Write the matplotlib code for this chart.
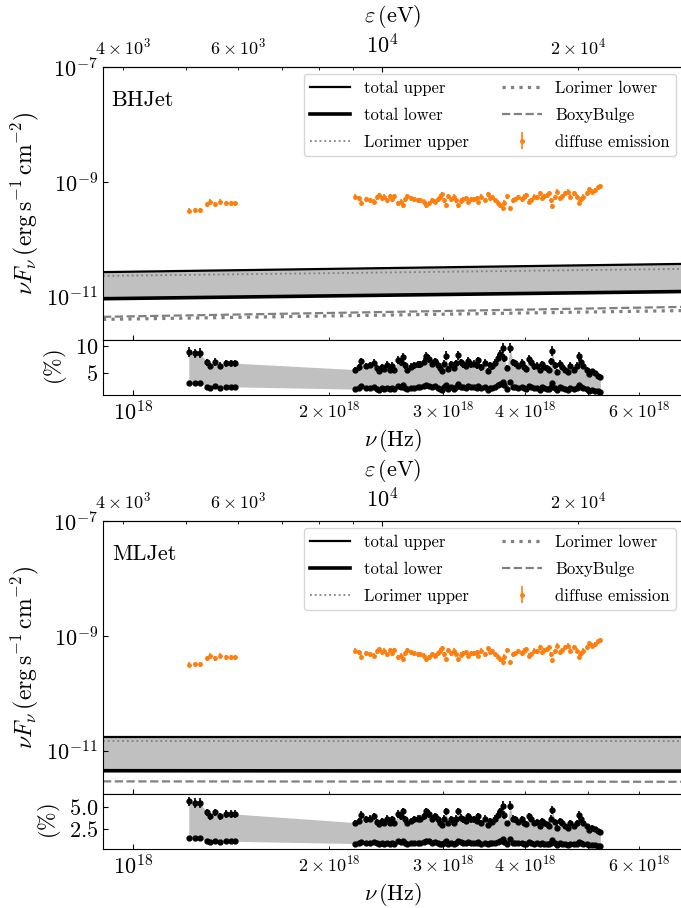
import matplotlib

matplotlib.use("Agg")

import matplotlib.pyplot as plt
import numpy as np

plt.rcParams["font.family"] = "serif"
plt.rcParams["font.serif"] = ["cmr10"]
plt.rcParams["mathtext.fontset"] = "cm"
plt.rcParams["axes.formatter.use_mathtext"] = True

H_EV = 4.135667696e-15  # eV s

# diffuse emission spectrum (nu in 1e18 Hz, flux in 1e-10 erg/s/cm2)
nu_data = [
    1.219, 1.244, 1.267, 1.301, 1.313, 1.336, 1.362, 1.389, 1.416, 1.435,
    2.197, 2.226, 2.241, 2.285, 2.315, 2.345, 2.370, 2.392, 2.414, 2.433,
    2.456, 2.481, 2.504, 2.521, 2.554, 2.578, 2.598, 2.622, 2.639, 2.674,
    2.702, 2.738, 2.763, 2.799, 2.818, 2.855, 2.885, 2.912, 2.939, 2.962,
    2.989, 3.009, 3.029, 3.048, 3.080, 3.109, 3.137, 3.162, 3.191, 3.220,
    3.254, 3.275, 3.305, 3.340, 3.375, 3.393, 3.429, 3.474, 3.510, 3.543,
    3.566, 3.604, 3.637, 3.661, 3.699, 3.719, 3.758, 3.798, 3.833, 3.868,
    3.909, 3.960, 3.986, 4.012, 4.055, 4.092, 4.130, 4.173, 4.217, 4.256,
    4.284, 4.329, 4.352, 4.386, 4.409, 4.456, 4.485, 4.526, 4.562, 4.604,
    4.665, 4.695, 4.757, 4.807, 4.851, 4.883, 4.915, 4.979, 5.012, 5.078,
    5.131, 5.178, 5.226,
]
flux_data = [
    3.17, 3.26, 3.26, 4.09, 4.55, 4.09, 4.55, 4.26, 4.26, 4.26,
    5.56, 5.20, 4.37, 4.99, 4.86, 4.55, 5.41, 5.94, 5.20, 5.56,
    4.86, 5.71, 4.99, 5.71, 4.26, 4.55, 3.98, 4.99, 5.71, 5.20,
    4.99, 4.86, 4.86, 4.55, 3.98, 4.26, 4.86, 4.55, 4.99, 5.56,
    6.18, 4.86, 3.98, 5.71, 4.99, 5.56, 4.86, 3.98, 4.74, 4.99,
    5.20, 4.55, 4.99, 4.99, 5.20, 4.55, 5.56, 4.86, 6.18, 5.20,
    5.41, 4.86, 4.37, 3.98, 3.48, 4.37, 5.71, 3.48, 4.86, 4.99,
    5.41, 4.99, 5.56, 5.94, 4.55, 4.86, 5.56, 5.41, 6.35, 5.20,
    5.71, 5.94, 6.35, 4.86, 3.82, 5.41, 6.79, 5.20, 5.71, 6.35,
    6.79, 5.56, 6.35, 5.56, 4.37, 4.99, 5.56, 6.35, 7.46, 6.79,
    7.26, 8.08, 8.52,
]
flux_rel_err = 0.10

# model curves at the plot edges (nu in 1e18 Hz, flux in 1e-11 erg/s/cm2)
nu_model = [0.9, 7.0]

bh_total_upper = [2.70, 3.75]
bh_total_lower = [0.93, 1.24]
bh_lorimer_upper = [2.32, 3.07]
bh_lorimer_lower = [0.406, 0.578]
bh_boxy = [0.45, 0.67]

ml_total_upper = [1.77, 1.77]
ml_total_lower = [0.452, 0.445]
ml_lorimer_upper = [1.49, 1.48]
ml_lorimer_lower = [0.157, 0.155]
ml_boxy = [0.295, 0.29]

panels = [
    ("BHJet", bh_total_upper, bh_total_lower, bh_lorimer_upper, bh_lorimer_lower, bh_boxy),
    ("MLJet", ml_total_upper, ml_total_lower, ml_lorimer_upper, ml_lorimer_lower, ml_boxy),
]

FIG_W, FIG_H = 681, 908


def _frac_box(left, top, right, bottom):
    return [left / FIG_W, 1 - bottom / FIG_H, (right - left) / FIG_W, (bottom - top) / FIG_H]


def _model_at(nu, numod, model):
    return np.exp(np.interp(np.log(nu), np.log(numod), np.log(model)))


def draw_panel(fig, row, name, upper, lower, lor_up, lor_low, boxy):
    shift = row * 454
    ax = fig.add_axes(_frac_box(103, 67 + shift, 683, 340 + shift))
    rax = fig.add_axes(_frac_box(103, 340 + shift, 683, 395 + shift), sharex=ax)

    nu = np.array(nu_data) * 1e18
    flux = np.array(flux_data) * 1e-10
    numod = np.array(nu_model) * 1e18
    up = np.array(upper) * 1e-11
    lo = np.array(lower) * 1e-11

    ax.fill_between(numod, lo, up, color="silver", lw=0)
    ax.plot(numod, up, color="black", lw=1.6, label="total upper")
    ax.plot(numod, lo, color="black", lw=2.6, label="total lower")
    ax.plot(numod, np.array(lor_up) * 1e-11, color="gray", ls=":", lw=1.3, label="Lorimer upper")
    ax.plot(numod, np.array(lor_low) * 1e-11, color="gray", ls=":", lw=2.3, label="Lorimer lower")
    ax.plot(numod, np.array(boxy) * 1e-11, color="gray", ls="--", lw=1.6, label="BoxyBulge")
    ax.errorbar(nu, flux, yerr=flux * flux_rel_err, fmt="o", ms=2.5, color="C1",
                elinewidth=1.2, label="diffuse emission")

    ax.set_xscale("log")
    ax.set_yscale("log")
    ax.set_xlim(0.9e18, 7e18)
    ax.set_ylim(10 ** -11.75, 1e-7)
    ax.set_yticks([1e-11, 1e-9, 1e-7])
    ax.set_yticks([], minor=True)
    ax.set_ylabel(r"$\nu F_\nu\,(\mathrm{erg\,s^{-1}\,cm^{-2}})$", fontsize=17)
    ax.tick_params(which="both", direction="in", labelsize=16, labelbottom=False)
    ax.text(0.015, 0.88, name, transform=ax.transAxes, fontsize=16, va="center")
    ax.legend(loc="upper right", ncol=2, fontsize=12, borderaxespad=0.4,
              handlelength=2.4, labelspacing=0.7)

    sec = ax.secondary_xaxis("top", functions=(lambda x: x * H_EV, lambda e: e / H_EV))
    sec.tick_params(which="both", direction="in", labelsize=16, pad=7)
    sec.tick_params(which="minor", labelsize=13)
    sec.set_xlabel(r"$\varepsilon\,(\mathrm{eV})$", fontsize=16, labelpad=8)

    r_up = 100 * _model_at(nu, numod, up) / flux
    r_lo = 100 * _model_at(nu, numod, lo) / flux
    rax.fill_between(nu, r_lo, r_up, color="silver", lw=0)
    rax.errorbar(nu, r_up, yerr=r_up * flux_rel_err, fmt="o", ms=3.5, color="black", elinewidth=1.2)
    rax.errorbar(nu, r_lo, yerr=r_lo * flux_rel_err, fmt="o", ms=3.5, color="black", elinewidth=1.2)
    rax.set_ylabel(r"$(\%)$", fontsize=16)
    rax.set_xlabel(r"$\nu\,(\mathrm{Hz})$", fontsize=16, labelpad=2)
    rax.tick_params(which="both", direction="in", labelsize=16)
    rax.tick_params(axis="x", which="minor", labelsize=13)


fig = plt.figure(figsize=(FIG_W / 100, FIG_H / 100), dpi=100)
for row, panel in enumerate(panels):
    draw_panel(fig, row, *panel)

fig.savefig("out.png", dpi=100)
